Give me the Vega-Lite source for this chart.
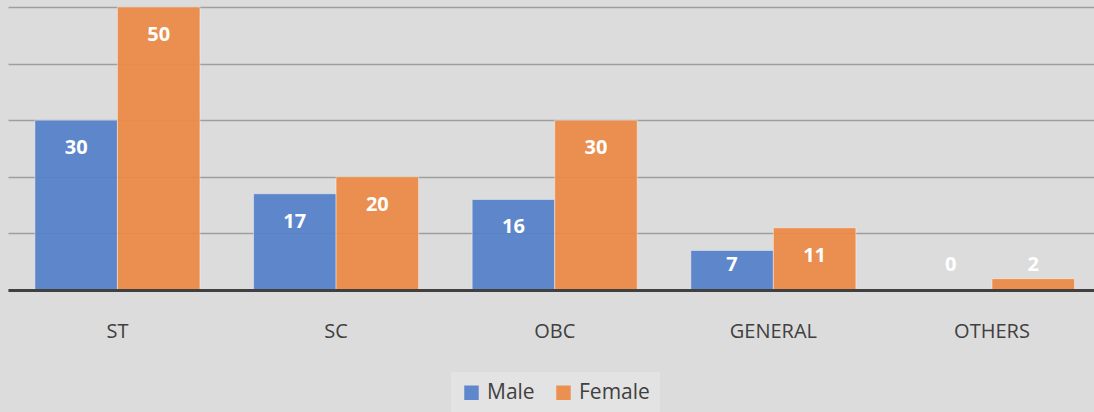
{
  "$schema": "https://vega.github.io/schema/vega-lite/v6.json",
  "width": 1086,
  "height": 283,
  "autosize": {"type": "none"},
  "padding": {"left": 8, "top": 7, "right": 0, "bottom": 122},
  "background": "#dcdcdc",
  "config": {"view": {"stroke": null}},
  "data": {
    "values": [
      {"category": "ST", "gender": "Male", "value": 30},
      {"category": "ST", "gender": "Female", "value": 50},
      {"category": "SC", "gender": "Male", "value": 17},
      {"category": "SC", "gender": "Female", "value": 20},
      {"category": "OBC", "gender": "Male", "value": 16},
      {"category": "OBC", "gender": "Female", "value": 30},
      {"category": "GENERAL", "gender": "Male", "value": 7},
      {"category": "GENERAL", "gender": "Female", "value": 11},
      {"category": "OTHERS", "gender": "Male", "value": 0},
      {"category": "OTHERS", "gender": "Female", "value": 2}
    ]
  },
  "encoding": {
    "x": {
      "field": "category",
      "type": "nominal",
      "sort": ["ST", "SC", "OBC", "GENERAL", "OTHERS"],
      "scale": {"paddingInner": 0.245, "paddingOuter": 0.106, "align": 0.58},
      "axis": {
        "title": null,
        "labelAngle": 0,
        "labelFontSize": 20,
        "labelColor": "#404040",
        "labelFont": "Open Sans",
        "labelPadding": 31,
        "ticks": false,
        "domainColor": "#404040",
        "domainWidth": 3,
        "grid": false,
        "zindex": 1
      }
    },
    "xOffset": {"field": "gender", "sort": ["Male", "Female"]}
  },
  "layer": [
    {
      "mark": {"type": "bar", "opacity": 0.93, "stroke": "#ffffff", "strokeOpacity": 0.45, "strokeWidth": 1},
      "encoding": {
        "y": {
          "field": "value",
          "type": "quantitative",
          "scale": {"domain": [0, 50], "nice": false},
          "axis": {"title": null, "labels": false, "ticks": false, "domain": false, "values": [0, 10, 20, 30, 40, 50], "gridColor": "#9e9e9e", "gridWidth": 1.5}
        },
        "color": {
          "field": "gender",
          "type": "nominal",
          "scale": {"domain": ["Male", "Female"], "range": ["#5580C9", "#EC8A46"]},
          "legend": {
            "title": null,
            "orient": "none",
            "legendX": 443,
            "legendY": 365,
            "direction": "horizontal",
            "fillColor": "#e3e3e3",
            "padding": 10,
            "symbolType": "square",
            "symbolSize": 210,
            "symbolStrokeWidth": 0,
            "labelFontSize": 21,
            "labelFont": "Open Sans",
            "labelColor": "#404040",
            "columnPadding": 18,
            "labelOffset": 5
          }
        }
      }
    },
    {
      "transform": [{"calculate": "max(datum.value, 9.35)", "as": "labelPos"}],
      "mark": {"type": "text", "color": "#ffffff", "fontWeight": "bold", "fontSize": 20, "font": "Open Sans", "dy": 28, "baseline": "middle"},
      "encoding": {
        "y": {"field": "labelPos", "type": "quantitative"},
        "text": {"field": "value", "type": "quantitative"}
      }
    }
  ]
}
